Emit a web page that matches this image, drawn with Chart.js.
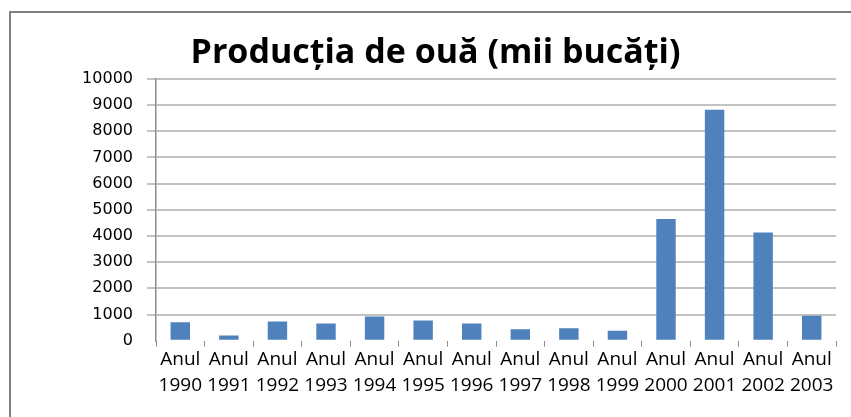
<!DOCTYPE html>
<html>
<head>
<meta charset="utf-8">
<script src="https://cdn.jsdelivr.net/npm/chart.js@4/dist/chart.umd.min.js"></script>
<style>
  body { margin: 0; background: #fff; }
  canvas { display: block; }
</style>
</head>
<body>
<canvas id="chart" width="851" height="417"></canvas>
<script>
// data
const years = ['1990', '1991', '1992', '1993', '1994', '1995', '1996', '1997', '1998', '1999', '2000', '2001', '2002', '2003'];
const labels = years.map(y => ['Anul', y]);
const eggs = [700, 200, 730, 660, 920, 770, 660, 440, 480, 380, 4650, 8820, 4130, 950];
const yTicks = [0, 1000, 2000, 3000, 4000, 5000, 6000, 7000, 8000, 9000, 10000];

// frame round the whole chart (only top and left show in the crop)
const framePlugin = {
  id: 'frame',
  beforeDraw(chart) {
    const ctx = chart.ctx;
    ctx.save();
    ctx.strokeStyle = '#808080';
    ctx.lineWidth = 2;
    ctx.strokeRect(10, 12, 900, 500);
    ctx.restore();
  }
};

new Chart(document.getElementById('chart'), {
  type: 'bar',
  data: {
    labels: labels,
    datasets: [{
      data: eggs,
      backgroundColor: '#4f81bd',
      borderWidth: 0,
      barPercentage: 0.4,
      categoryPercentage: 1
    }]
  },
  options: {
    responsive: false,
    animation: false,
    layout: { padding: { left: 20, right: 0, top: 0, bottom: 19 } },
    plugins: {
      legend: { display: false },
      tooltip: { enabled: false },
      title: {
        display: true,
        text: 'Producția de ouă (mii bucăți)',
        color: '#000',
        font: { family: 'Open Sans', size: 34, weight: 'bold' },
        padding: { top: 33, bottom: 5 }
      }
    },
    scales: {
      x: {
        grid: {
          offset: true,
          drawOnChartArea: false,
          tickLength: 6,
          color: '#8c8c8c'
        },
        border: { display: false },
        ticks: {
          autoSkip: false,
          maxRotation: 0,
          minRotation: 0,
          padding: 0,
          color: '#000',
          font: { family: 'Open Sans', size: 19, lineHeight: 1.35 }
        }
      },
      y: {
        min: 0,
        max: 10000,
        afterBuildTicks(scale) { scale.ticks = yTicks.map(v => ({ value: v })); },
        afterFit(scale) { scale.width = 136; },
        grid: {
          lineWidth: 2,
          tickLength: 9,
          color: ctx => (ctx.tick && ctx.tick.value === 0) ? 'rgba(0,0,0,0)' : '#c2c2c2'
        },
        border: { display: true, color: '#8c8c8c', width: 1.5 },
        ticks: {
          padding: 14,
          color: '#000',
          font: { family: 'DejaVu Sans', size: 16 },
          callback: v => String(v)
        }
      },
      y2: {
        position: 'right',
        display: true,
        afterFit(scale) { scale.width = 15; },
        grid: { display: false },
        border: { display: false },
        ticks: { display: false }
      }
    }
  },
  plugins: [framePlugin]
});
</script>
</body>
</html>
